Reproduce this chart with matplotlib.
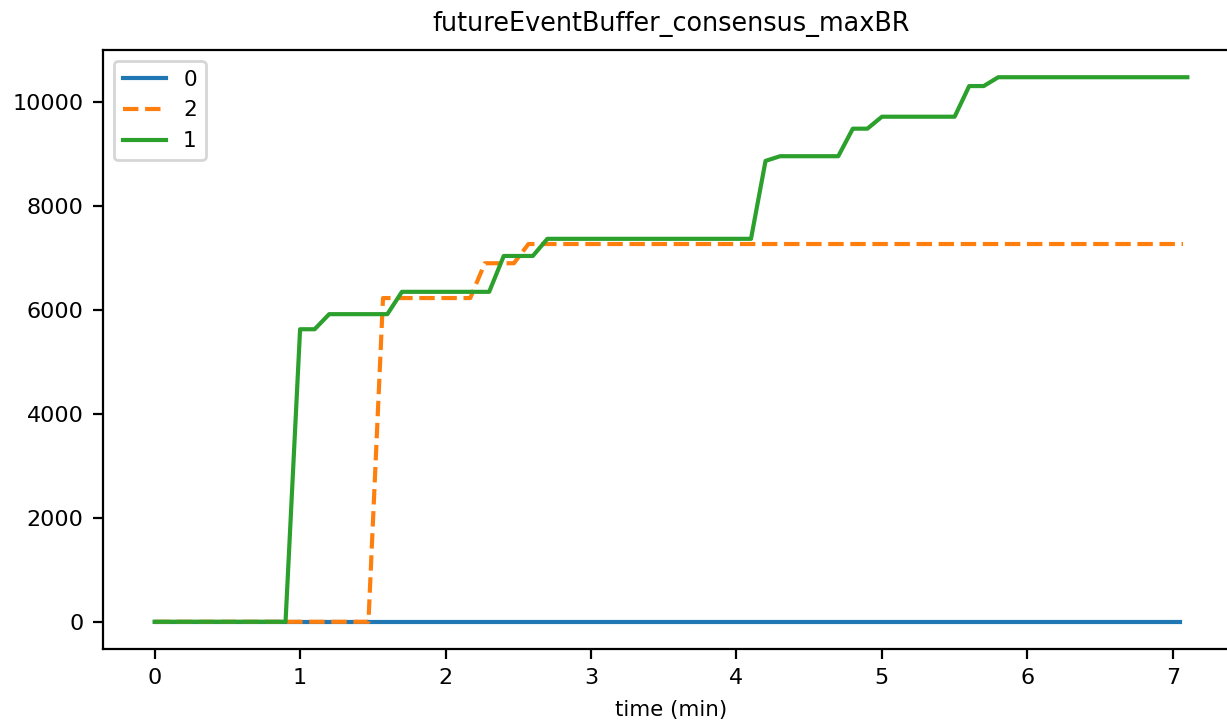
import matplotlib
matplotlib.use("Agg")
import matplotlib.pyplot as plt

# series "0"
t0 = [0.0, 7.05]
v0 = [0, 0]

# series "2"
t2 = [0.0, 1.47, 1.57, 2.17, 2.27, 2.47, 2.57, 7.07]
v2 = [0, 0, 6230, 6230, 6900, 6900, 7270, 7270]

# series "1"
t1 = [0.0, 0.9, 1.0, 1.1, 1.2, 1.6, 1.7, 2.3, 2.4, 2.6, 2.7, 4.1, 4.2, 4.3,
      4.7, 4.8, 4.9, 5.0, 5.5, 5.6, 5.7, 5.8, 7.1]
v1 = [0, 0, 5630, 5630, 5920, 5920, 6350, 6350, 7040, 7040, 7370, 7370, 8870, 8960,
      8960, 9490, 9490, 9720, 9720, 10310, 10310, 10480, 10480]

W, H, DPI = 1227, 721, 200
fig = plt.figure(figsize=(W / DPI, H / DPI), dpi=DPI)
ax = fig.add_axes([103 / W, (H - 649) / H, (1239 - 103) / W, (649 - 50) / H])

ax.plot(t0, v0, color="#1f77b4", linestyle="-", label="0")
ax.plot(t2, v2, color="#ff7f0e", linestyle="--", label="2")
ax.plot(t1, v1, color="#2ca02c", linestyle="-", label="1")

ax.set_title("futureEventBuffer_consensus_maxBR", fontsize=9.2, pad=7)
ax.set_xlabel("time (min)", fontsize=7.7)
ax.tick_params(labelsize=8)
ax.legend(loc="upper left", fontsize=7.8)

fig.savefig("out.png", dpi=DPI)
